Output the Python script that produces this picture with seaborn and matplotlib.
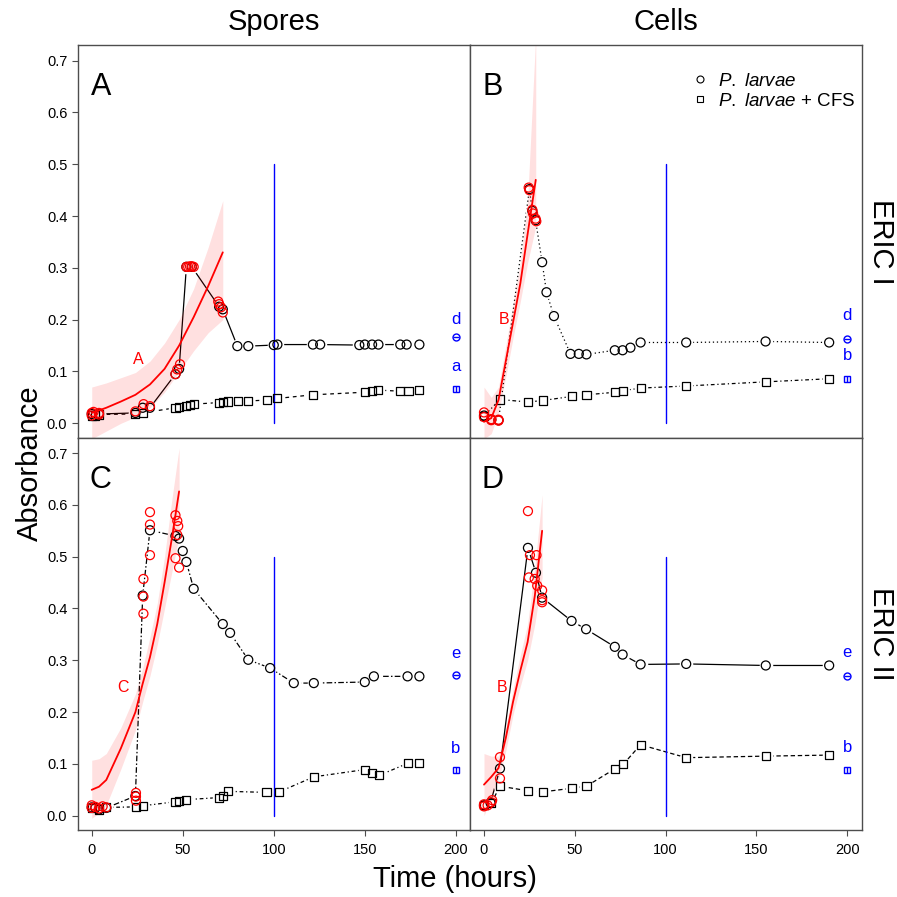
import matplotlib
matplotlib.use("Agg")
from matplotlib import pyplot as plt
from matplotlib.lines import Line2D
import numpy as np
import pandas as pd
import seaborn as sns

# ---- panel A : spores, ERIC I ----
a_circ_t = [0, 4, 24, 28, 32, 46, 48, 52, 55, 70, 72, 80, 86, 100, 102, 121.5, 125.5, 147, 150, 154, 157.5, 169.5, 173, 180]
a_circ_y = [0.018, 0.018, 0.02, 0.03, 0.03, 0.095, 0.105, 0.302, 0.302, 0.225, 0.22, 0.149, 0.149, 0.151, 0.152, 0.152, 0.152, 0.151, 0.152, 0.152, 0.152, 0.152, 0.152, 0.152]
a_sq_t = [0, 2, 4, 24, 28, 46, 48, 52, 54, 56, 70, 72, 75, 80.5, 86, 96.5, 102, 121.5, 150, 154, 157.5, 169.5, 174, 180]
a_sq_y = [0.015, 0.015, 0.017, 0.018, 0.02, 0.03, 0.031, 0.033, 0.035, 0.037, 0.04, 0.041, 0.042, 0.043, 0.043, 0.045, 0.048, 0.055, 0.06, 0.062, 0.064, 0.062, 0.062, 0.065]
a_red_t = [0, 0, 1, 4, 4, 24, 28.5, 32, 46, 47, 48.5, 52, 53, 54, 55, 56, 69.5, 70, 71, 72]
a_red_y = [0.015, 0.02, 0.022, 0.02, 0.017, 0.023, 0.037, 0.033, 0.095, 0.104, 0.114, 0.302, 0.302, 0.303, 0.303, 0.302, 0.235, 0.23, 0.224, 0.214]
a_fit_t = [0, 8, 16, 24, 32, 40, 48, 56, 64, 72]
a_fit_y = [0.02, 0.03, 0.042, 0.055, 0.075, 0.105, 0.15, 0.205, 0.265, 0.33]
a_fit_lo = [-0.03, -0.015, 0.0, 0.012, 0.03, 0.06, 0.1, 0.14, 0.175, 0.2]
a_fit_hi = [0.07, 0.078, 0.088, 0.098, 0.12, 0.155, 0.2, 0.26, 0.34, 0.43]
a_letters = ["d", "a"]
a_letter_y = [0.2, 0.11]
a_sym_y = [0.166, 0.067]
a_red_label = ("A", 25.4, 0.124)

# ---- panel B : cells, ERIC I ----
b_circ_t = [0, 4, 8, 25, 26.6, 28.4, 32, 34.4, 38.5, 47.6, 52.2, 56.4, 72, 76.3, 80.6, 86.2, 111.3, 155, 190]
b_circ_y = [0.015, 0.007, 0.006, 0.452, 0.41, 0.392, 0.311, 0.253, 0.207, 0.134, 0.134, 0.133, 0.141, 0.141, 0.146, 0.156, 0.156, 0.158, 0.156]
b_sq_t = [0, 8.8, 24.4, 32.4, 48.5, 56.4, 72.3, 76.6, 86.2, 111.3, 155, 190]
b_sq_y = [0.014, 0.046, 0.041, 0.044, 0.052, 0.055, 0.06, 0.063, 0.068, 0.072, 0.08, 0.086]
b_red_t = [0, 0, 4, 4, 8, 8, 24.6, 25, 26.6, 27, 28.4, 28.8]
b_red_y = [0.021, 0.012, 0.008, 0.006, 0.007, 0.005, 0.455, 0.45, 0.412, 0.405, 0.395, 0.39]
b_fit_t = [0, 4, 8, 12, 16, 20, 24, 28.5]
b_fit_y = [0.003, 0.01, 0.045, 0.12, 0.195, 0.27, 0.365, 0.47]
b_fit_lo = [-0.03, -0.02, 0.02, 0.09, 0.165, 0.235, 0.31, 0.38]
b_fit_hi = [0.07, 0.05, 0.07, 0.15, 0.23, 0.31, 0.43, 0.75]
b_letters = ["d", "b"]
b_letter_y = [0.208, 0.13]
b_sym_y = [0.163, 0.086]
b_red_label = ("B", 11, 0.2)

# ---- panel C : spores, ERIC II ----
c_circ_t = [0, 2, 4, 8, 24, 28, 32, 46, 48, 50, 52, 56, 72, 76, 86, 98, 111, 122, 150, 155, 173.5, 180]
c_circ_y = [0.016, 0.015, 0.012, 0.015, 0.038, 0.425, 0.551, 0.54, 0.535, 0.511, 0.49, 0.438, 0.37, 0.353, 0.301, 0.285, 0.256, 0.256, 0.258, 0.269, 0.269, 0.269]
c_sq_t = [0, 4, 8, 24.3, 28, 46, 48, 52, 70, 72, 75, 96, 103, 122, 150, 154, 158, 173.5, 180]
c_sq_y = [0.015, 0.012, 0.016, 0.017, 0.019, 0.027, 0.029, 0.031, 0.035, 0.038, 0.047, 0.045, 0.046, 0.075, 0.089, 0.083, 0.078, 0.101, 0.101]
c_red_t = [0, 0, 2, 4, 6, 8, 24.3, 24.3, 24.3, 28.4, 28.4, 28.4, 32, 32, 32, 46, 47, 47.5, 47, 46, 48]
c_red_y = [0.015, 0.02, 0.017, 0.014, 0.018, 0.016, 0.044, 0.037, 0.029, 0.39, 0.423, 0.457, 0.503, 0.562, 0.586, 0.58, 0.569, 0.559, 0.542, 0.497, 0.479]
c_fit_t = [0, 4, 8, 16, 24, 28, 32, 36, 40, 44, 48]
c_fit_y = [0.05, 0.056, 0.069, 0.13, 0.2, 0.255, 0.306, 0.37, 0.45, 0.535, 0.626]
c_fit_lo = [-0.005, 0.005, 0.02, 0.09, 0.165, 0.22, 0.27, 0.33, 0.4, 0.47, 0.54]
c_fit_hi = [0.107, 0.11, 0.12, 0.17, 0.235, 0.285, 0.345, 0.41, 0.5, 0.61, 0.71]
c_letters = ["e", "b"]
c_letter_y = [0.314, 0.13]
c_sym_y = [0.271, 0.088]
c_red_label = ("C", 17, 0.248)

# ---- panel D : cells, ERIC II ----
d_circ_t = [0, 3.6, 8.8, 24.2, 28.6, 32, 48.2, 56.2, 72, 76.3, 86.2, 111.3, 155.1, 190]
d_circ_y = [0.02, 0.025, 0.091, 0.517, 0.469, 0.421, 0.376, 0.36, 0.326, 0.311, 0.292, 0.293, 0.29, 0.29]
d_sq_t = [0, 4, 8.8, 24.4, 32.4, 48.5, 56.4, 72.3, 76.6, 86.2, 111.3, 155.1, 190]
d_sq_y = [0.02, 0.024, 0.057, 0.048, 0.046, 0.053, 0.057, 0.091, 0.099, 0.137, 0.112, 0.115, 0.117]
d_red_t = [0, 0, 2, 4, 4.5, 8.8, 8.8, 24.2, 24.7, 25.3, 27.9, 28.9, 29.3, 32, 32, 32]
d_red_y = [0.018, 0.022, 0.02, 0.026, 0.03, 0.113, 0.072, 0.588, 0.46, 0.503, 0.457, 0.503, 0.444, 0.435, 0.416, 0.412]
d_fit_t = [0, 4, 8, 12, 16, 20, 24, 28, 32]
d_fit_y = [0.06, 0.075, 0.092, 0.15, 0.22, 0.28, 0.335, 0.425, 0.55]
d_fit_lo = [0.0, 0.035, 0.07, 0.125, 0.195, 0.25, 0.3, 0.37, 0.46]
d_fit_hi = [0.12, 0.115, 0.115, 0.17, 0.245, 0.31, 0.37, 0.48, 0.62]
d_letters = ["e", "b"]
d_letter_y = [0.315, 0.131]
d_sym_y = [0.27, 0.088]
d_red_label = ("B", 10, 0.248)

panel_names = ["A", "B", "C", "D"]
col_titles = ["Spores", "Cells"]
row_titles = ["ERIC I", "ERIC II"]
y_ticks = [0.0, 0.1, 0.2, 0.3, 0.4, 0.5, 0.6, 0.7]
x_ticks = [0, 50, 100, 150, 200]
cutoff_t = 100
cutoff_top = 0.5
blue_t = 200

sns.set_theme(style="white")
plt.rcParams['font.family'] = ['Liberation Sans', 'DejaVu Sans']
plt.rcParams['mathtext.fontset'] = 'custom'
plt.rcParams['mathtext.rm'] = 'Liberation Sans'
plt.rcParams['mathtext.it'] = 'Liberation Sans:italic'
plt.rcParams['text.color'] = 'black'
plt.rcParams['axes.labelcolor'] = 'black'
plt.rcParams['xtick.color'] = 'black'
plt.rcParams['ytick.color'] = 'black'

# line styles per panel (circles, squares)
dotted = (0, (1, 2.2))
dotdash = (0, (1, 2.2, 3, 2.2))
dashed = (0, (3, 3))
twodash = (0, (4.5, 1.8, 1.2, 1.8))
styles = {"A": ("-", dashed), "B": (dotted, dotdash),
          "C": (twodash, dotdash), "D": ("-", (0, (3.5, 2.2)))}

panels = {
    "A": (a_circ_t, a_circ_y, a_sq_t, a_sq_y, a_red_t, a_red_y, a_fit_t, a_fit_y, a_fit_lo, a_fit_hi, a_letters, a_letter_y, a_sym_y, a_red_label),
    "B": (b_circ_t, b_circ_y, b_sq_t, b_sq_y, b_red_t, b_red_y, b_fit_t, b_fit_y, b_fit_lo, b_fit_hi, b_letters, b_letter_y, b_sym_y, b_red_label),
    "C": (c_circ_t, c_circ_y, c_sq_t, c_sq_y, c_red_t, c_red_y, c_fit_t, c_fit_y, c_fit_lo, c_fit_hi, c_letters, c_letter_y, c_sym_y, c_red_label),
    "D": (d_circ_t, d_circ_y, d_sq_t, d_sq_y, d_red_t, d_red_y, d_fit_t, d_fit_y, d_fit_lo, d_fit_hi, d_letters, d_letter_y, d_sym_y, d_red_label),
}

W = 897.0
fig = plt.figure(figsize=(8.97, 8.97), dpi=100)
lefts = [77.7, 470.0]
widths = [392.3, 391.5]
tops = [45.3, 437.7]
height = 392.4


def drawPanel(ax, name):
    circ_t, circ_y, sq_t, sq_y, red_t, red_y, fit_t, fit_y, fit_lo, fit_hi, letters, letter_y, sym_y, red_label = panels[name]
    c_ls, s_ls = styles[name]
    # connecting lines
    sns.lineplot(x=circ_t, y=circ_y, ax=ax, color="black", lw=0.9, linestyle=c_ls,
                 sort=False, estimator=None, zorder=1)
    sns.lineplot(x=sq_t, y=sq_y, ax=ax, color="black", lw=0.9, linestyle=s_ls,
                 sort=False, estimator=None, zorder=1)
    # white gaps around points (R type="b")
    sns.scatterplot(x=circ_t + sq_t, y=circ_y + sq_y, ax=ax, color="white", s=95,
                    linewidth=0, marker="o", zorder=1.5)
    # fitted growth curve with CI
    ax.fill_between(fit_t, fit_lo, fit_hi, color="#ff0000", alpha=0.12, lw=0, zorder=2)
    sns.scatterplot(x=circ_t, y=circ_y, ax=ax, marker="o", s=42, facecolor="none",
                    edgecolor="black", linewidth=0.9, zorder=3)
    sns.scatterplot(x=sq_t, y=sq_y, ax=ax, marker="s", s=34, facecolor="none",
                    edgecolor="black", linewidth=0.9, zorder=3)
    sns.lineplot(x=fit_t, y=fit_y, ax=ax, color="#ff0000", lw=1.3, sort=False,
                 estimator=None, zorder=4)
    sns.scatterplot(x=red_t, y=red_y, ax=ax, marker="o", s=42, facecolor="none",
                    edgecolor="#ff0000", linewidth=0.9, zorder=5)
    ax.text(red_label[1], red_label[2], red_label[0], color="#ff0000", fontsize=11.5,
            ha="center", va="center", zorder=6)
    # cutoff line
    ax.plot([cutoff_t, cutoff_t], [0, cutoff_top], color="#0000ff", lw=1.0, zorder=2.5)
    # significance letters and symbols
    for lab, yy in zip(letters, letter_y):
        ax.text(blue_t, yy, lab, color="#0000ff", fontsize=12, ha="center", va="center")
    ax.plot([blue_t], [sym_y[0]], marker="o", ms=5, mfc="none", mec="#0000ff", mew=1.0, ls="none")
    ax.plot([blue_t], [sym_y[0]], marker="_", ms=5, mec="#0000ff", mew=1.0, ls="none")
    ax.plot([blue_t], [sym_y[1]], marker="s", ms=4.5, mfc="none", mec="#0000ff", mew=1.0, ls="none")
    ax.plot([blue_t], [sym_y[1]], marker="|", ms=4.5, mec="#0000ff", mew=1.0, ls="none")

    ax.text(0.0586, 0.893, name, transform=ax.transAxes, fontsize=22, ha="center", va="center")
    ax.set_xlim(-7.7, 207.8)
    ax.set_ylim(-0.0278, 0.7297)
    ax.set_xlabel("")
    ax.set_ylabel("")
    for sp in ax.spines.values():
        sp.set_color("0.3")
        sp.set_linewidth(1.0)


axes = {}
for r in range(2):
    for c in range(2):
        name = panel_names[r * 2 + c]
        ax = fig.add_axes([lefts[c] / W, 1 - (tops[r] + height) / W, widths[c] / W, height / W])
        ax.set_facecolor("white")
        drawPanel(ax, name)
        ax.set_xticks(x_ticks)
        ax.set_yticks(y_ticks)
        ax.set_yticklabels([f"{v:.1f}" for v in y_ticks])
        ax.tick_params(axis="both", direction="out", length=4, width=0.8, color="0.3",
                       labelsize=10.5, pad=3.5, labelcolor="black")
        ax.tick_params(axis="x", bottom=(r == 1), labelbottom=(r == 1), pad=5)
        ax.tick_params(axis="y", left=(c == 0), labelleft=(c == 0))
        axes[name] = ax

# legend in panel B
handles = [Line2D([], [], marker="o", ls="none", mfc="none", mec="black", ms=5, mew=0.8),
           Line2D([], [], marker="s", ls="none", mfc="none", mec="black", ms=4.5, mew=0.8)]
labels = [r"$\mathit{P.\ larvae}$", r"$\mathit{P.\ larvae}$ + CFS"]
axes["B"].legend(handles, labels, loc="upper left", bbox_to_anchor=(0.5635, 0.93),
                 frameon=False, fontsize=13.5, handlelength=1.0, handletextpad=0.45,
                 borderpad=0, borderaxespad=0, labelspacing=0.15)

for c in range(2):
    fig.text((lefts[c] + widths[c] / 2) / W, 1 - 22 / W, col_titles[c], fontsize=21,
             ha="center", va="center")
for r in range(2):
    fig.text(881 / W, 1 - (tops[r] + height / 2) / W, row_titles[r], fontsize=21,
             ha="center", va="center", rotation=270)
fig.text(30 / W, 1 - 463 / W, "Absorbance", fontsize=21, ha="center", va="center", rotation=90)
fig.text(455 / W, 1 - 879 / W, "Time (hours)", fontsize=21, ha="center", va="center")

fig.savefig("out.png", dpi=100, facecolor="white")
